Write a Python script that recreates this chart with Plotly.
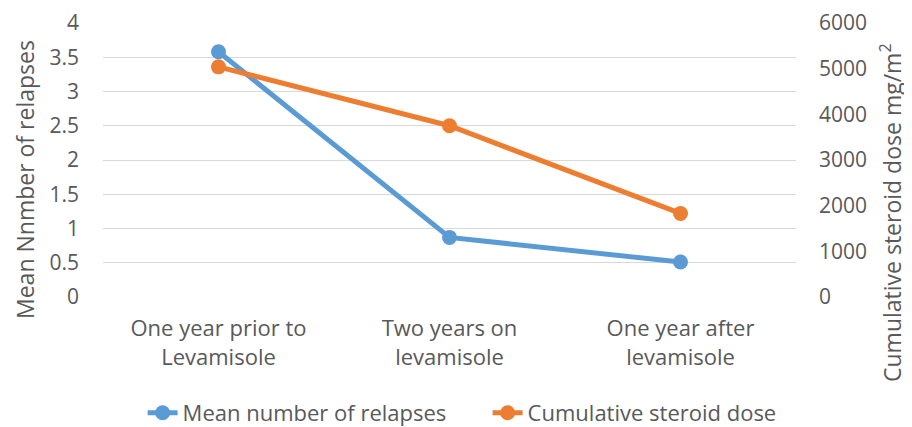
import plotly.graph_objects as go

categories = ["One year prior to<br>Levamisole", "Two years on<br>levamisole", "One year after<br>levamisole"]
relapses = [3.58, 0.87, 0.51]
steroid_dose = [5040, 3750, 1830]
left_ticks = [0, 0.5, 1, 1.5, 2, 2.5, 3, 3.5, 4]
left_tick_text = ["0", "0.5", "1", "1.5", "2", "2.5", "3", "3.5", "4"]
right_ticks = [0, 1000, 2000, 3000, 4000, 5000, 6000]

blue = "#5B9BD5"
orange = "#ED7D31"
txt = "#595959"
font_family = "Open Sans, Liberation Sans, sans-serif"
fs = 21

fig = go.Figure()
fig.add_trace(go.Scatter(x=categories, y=relapses, name="Mean number of relapses",
                         mode="lines+markers", line=dict(color=blue, width=5),
                         marker=dict(size=15, color=blue), yaxis="y"))
fig.add_trace(go.Scatter(x=categories, y=steroid_dose, name="Cumulative steroid dose",
                         mode="lines+markers", line=dict(color=orange, width=5),
                         marker=dict(size=15, color=orange), yaxis="y2"))

# page body has an 8px default margin, so the figure is sized to fit the window
fig.update_layout(
    width=904, height=419,
    margin=dict(l=95, r=116, t=15, b=130, autoexpand=False),
    paper_bgcolor="white", plot_bgcolor="white",
    font=dict(family=font_family, size=fs, color=txt),
    xaxis=dict(type="category", range=[-0.5, 2.5], showgrid=False, showline=False,
               zeroline=False, ticks="", tickfont=dict(size=22, color=txt),
               automargin=False, ticklabelstandoff=16),
    yaxis=dict(range=[0, 4], tickvals=left_ticks, ticktext=left_tick_text,
               showgrid=True, gridcolor="#D9D9D9", gridwidth=1.3, zeroline=False,
               showline=False, ticks="", ticklabelstandoff=23, automargin=False,
               tickfont=dict(size=fs, color=txt)),
    yaxis2=dict(range=[0, 6000], tickvals=right_ticks, overlaying="y", side="right",
                showgrid=False, zeroline=False, showline=False, ticks="", ticklabelstandoff=22,
                automargin=False, tickfont=dict(size=fs, color=txt)),
    legend=dict(orientation="h", x=0.555, xanchor="center", y=-0.423, yanchor="middle",
                font=dict(size=22, color=txt), traceorder="normal", entrywidth=300),
    showlegend=True,
    annotations=[
        dict(text="Mean Nnmber of relapses", xref="paper", yref="paper",
             x=(25 - 103) / 693, y=(297 - 180) / 274,
             textangle=-90, showarrow=False, xanchor="center", yanchor="middle",
             font=dict(size=23, color=txt)),
        dict(text="Cumulative steroid dose mg/m<sup>2</sup>", xref="paper", yref="paper",
             x=(891 - 103) / 693, y=(297 - 213) / 274, textangle=-90, showarrow=False,
             xanchor="center", yanchor="middle", font=dict(size=23, color=txt)),
    ],
)

fig.write_html("out.html")
